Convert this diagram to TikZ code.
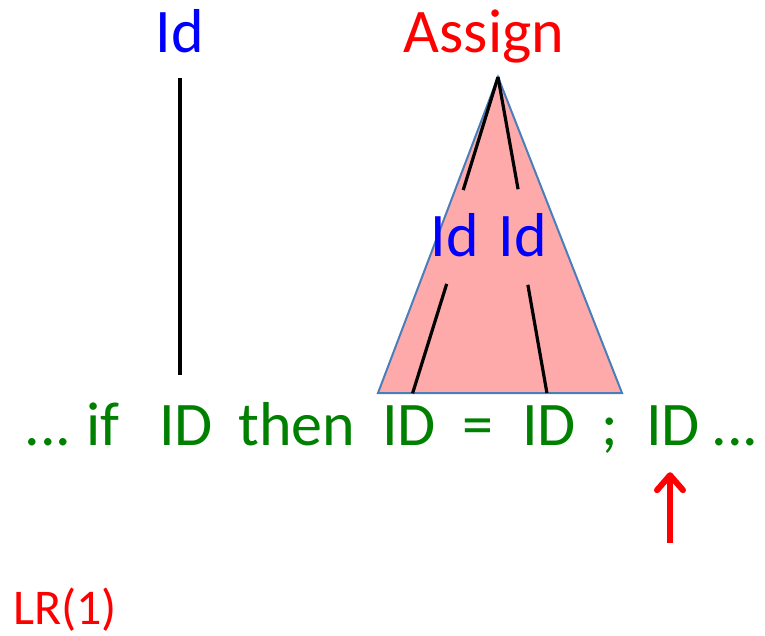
\documentclass[tikz,border=0pt]{standalone}
\usepackage{fontspec}
\setmainfont{Carlito}
\usepackage{xcolor}
\usetikzlibrary{arrows.meta}
\definecolor{tokgreen}{HTML}{008000}
\definecolor{ntblue}{HTML}{0000FF}
\definecolor{ntred}{HTML}{FF0000}
\definecolor{treepink}{HTML}{FFAAAA}
\definecolor{edgeblue}{HTML}{4A7EBB}

\begin{document}
\begin{tikzpicture}[
  x=1pt,y=-1pt,
  every node/.style={inner sep=0pt,anchor=base,font=\fontsize{62}{70}\selectfont,text height=40pt,text depth=0pt},
  tok/.style={text=tokgreen},
  nt/.style={text=ntblue},
  goal/.style={text=ntred},
  treeedge/.style={line width=3.2pt,black},
  lookahead/.style={line width=6pt,ntred,-{Straight Barb[length=15pt,width=26pt,line width=6pt,round]}}
]
\useasboundingbox (0,0) rectangle (765,636);
% subtree already reduced
\coordinate (apex) at (498,77);
\filldraw[fill=treepink,draw=edgeblue,line width=2pt]
  (apex) -- (378,393) -- (622,393) -- cycle;
% input tokens
\node[tok] (dots1) at (48,445) {...};
\node[tok] (kwif) at (103,445) {if};
\node[tok] (id1) at (186,445) {ID};
\node[tok] (kwthen) at (297,445) {then};
\node[tok] (id2) at (409,445) {ID};
\node[tok] (eq) at (478,445) {=};
\node[tok] (id3) at (549,445) {ID};
\node[tok] (semi) at (610,445) {;};
\node[tok] (id4) at (673,445) {ID};
\node[tok] (dots2) at (735,445) {...};
% nonterminals
\node[nt] (idtop) at (180,53) {Id};
\node[goal] (assign) at (484,53) {Assign};
\node[nt] (ida) at (455,257) {Id};
\node[nt] (idb) at (523,257) {Id};
\node[goal,font=\fontsize{50}{58}\selectfont,text height=32pt] (lr) at (65,624) {LR(1)};
\coordinate (look) at (670,543);
% edges
\draw[treeedge,shorten <=25pt,shorten >=30pt] (idtop.south) -- (idtop.south |- id1.north);
\draw[treeedge,shorten >=28pt] (apex) -- (ida.north);
\draw[treeedge,shorten >=28pt] (apex) -- (idb.north);
\draw[treeedge,shorten <=28pt,shorten >=12pt] (ida.south) -- (id2.north);
\draw[treeedge,shorten <=28pt,shorten >=12pt] (idb.south) -- (id3.north);
\draw[lookahead,shorten >=27pt] (look) -- (look |- id4.south);
\end{tikzpicture}
\end{document}
